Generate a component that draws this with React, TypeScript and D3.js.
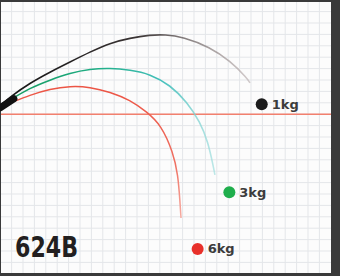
import React from 'react'
import * as d3 from 'd3'

// casting trajectories, one grid cell = 1 unit, 0 height = red line
const curve1kg: [number, number][] = [
  [0.16, 0.89], [0.86, 1.51], [2.61, 2.74], [4.37, 3.7], [6.12, 4.58], [7.88, 5.46],
  [9.63, 6.25], [11.39, 6.68], [13.14, 6.95], [14.46, 6.99], [16.04, 6.77], [18.4, 5.89],
  [20.16, 4.67], [21.65, 3.18], [21.91, 2.74],
]
const curve3kg: [number, number][] = [
  [0.16, 0.81], [0.86, 1.25], [2.61, 2.3], [4.37, 3.0], [6.12, 3.61], [7.88, 3.96],
  [9.63, 4.05], [11.39, 3.88], [13.14, 3.53], [14.9, 2.56], [16.39, 1.07], [17.53, -0.68],
  [18.23, -2.44], [18.67, -4.46], [18.84, -5.33],
]
const curve6kg: [number, number][] = [
  [0.16, 0.72], [0.86, 0.98], [2.61, 1.68], [4.37, 2.21], [6.12, 2.47], [7.88, 2.39],
  [9.63, 1.95], [11.39, 1.25], [12.88, 0.19], [14.11, -0.95], [15.16, -3.32], [15.6, -5.33],
  [15.77, -7.7], [15.86, -9.11],
]
const rodTip: [number, number][] = [[0.0, 0.55], [0.6, 0.95], [1.2, 1.35]]

const weights = ['1kg', '3kg', '6kg']
const markers: [number, number][] = [[22.94, 0.87], [20.1, -6.85], [17.32, -11.82]]
const markerColors = ['#1c1c1c', '#1fae4c', '#e8302a']
const modelName = '624B'

const W = 340
const H = 276

export default function App() {
  const x = d3.scaleLinear().domain([0, 29]).range([0.2, 0.2 + 29 * 11.4])
  const y = d3.scaleLinear().domain([10, -14]).range([0.2, 0.2 + 24 * 11.4])
  const line = d3.line<[number, number]>()
    .x(d => x(d[0]))
    .y(d => y(d[1]))
    .curve(d3.curveBasis)

  const vTicks = d3.range(1, 29)
  const hTicks = d3.range(-13, 10)

  return (
    <>
      <style>{'body{margin:0}'}</style>
      <svg width={W} height={H} style={{ display: 'block' }}>
        <defs>
          <linearGradient id="g1" gradientUnits="userSpaceOnUse" x1={x(0)} x2={x(22)} y1={0} y2={0}>
            <stop offset="0" stopColor="#141414" />
            <stop offset="0.55" stopColor="#3a3434" />
            <stop offset="1" stopColor="#b8acac" stopOpacity="0.6" />
          </linearGradient>
          <linearGradient id="g3" gradientUnits="userSpaceOnUse" x1={x(0)} x2={x(19)} y1={0} y2={0}>
            <stop offset="0" stopColor="#14985a" />
            <stop offset="0.45" stopColor="#1fae86" />
            <stop offset="0.75" stopColor="#46c0bc" />
            <stop offset="1" stopColor="#a6e0e0" stopOpacity="0.7" />
          </linearGradient>
          <linearGradient id="g6" gradientUnits="userSpaceOnUse" x1={0} x2={0} y1={y(2.5)} y2={y(-9)}>
            <stop offset="0" stopColor="#ec5444" />
            <stop offset="0.6" stopColor="#ef7062" />
            <stop offset="1" stopColor="#f6aca2" />
          </linearGradient>
        </defs>
        <rect x={0} y={0} width={W} height={H} fill="#3a3a3a" />
        <rect x={1} y={2} width={330} height={271} fill="#fcfcfc" />
        <g stroke="#e4e6e9" strokeWidth={1}>
          {vTicks.map(t => (
            <line key={'v' + t} x1={x(t)} x2={x(t)} y1={2} y2={273} />
          ))}
          {hTicks.map(t => (
            <line key={'h' + t} x1={1} x2={331} y1={y(t)} y2={y(t)} />
          ))}
        </g>
        <line x1={1} x2={331} y1={y(0)} y2={y(0)} stroke="#f2806e" strokeWidth={1.6} />
        <path d={line(curve6kg) || ''} fill="none" stroke="url(#g6)" strokeWidth={1.5} />
        <path d={line(curve3kg) || ''} fill="none" stroke="url(#g3)" strokeWidth={1.6} />
        <path d={line(curve1kg) || ''} fill="none" stroke="url(#g1)" strokeWidth={1.6} />
        <path d={line(rodTip) || ''} fill="none" stroke="#111" strokeWidth={7} strokeLinecap="round" />
        {markers.map((m, i) => (
          <g key={weights[i]}>
            <circle cx={x(m[0])} cy={y(m[1])} r={6} fill={markerColors[i]} />
            <text
              x={x(m[0]) + 10}
              y={y(m[1]) + 4.5}
              fontFamily="DejaVu Sans"
              fontWeight="bold"
              fontSize={13}
              fill="#3c3c3c"
            >
              {weights[i]}
            </text>
          </g>
        ))}
        <text
          x={15}
          y={257}
          fontFamily="DejaVu Sans Condensed"
          fontWeight="bold"
          fontSize={29}
          textLength={63}
          lengthAdjust="spacingAndGlyphs"
          fill="#231f20"
        >
          {modelName}
        </text>
      </svg>
    </>
  )
}
